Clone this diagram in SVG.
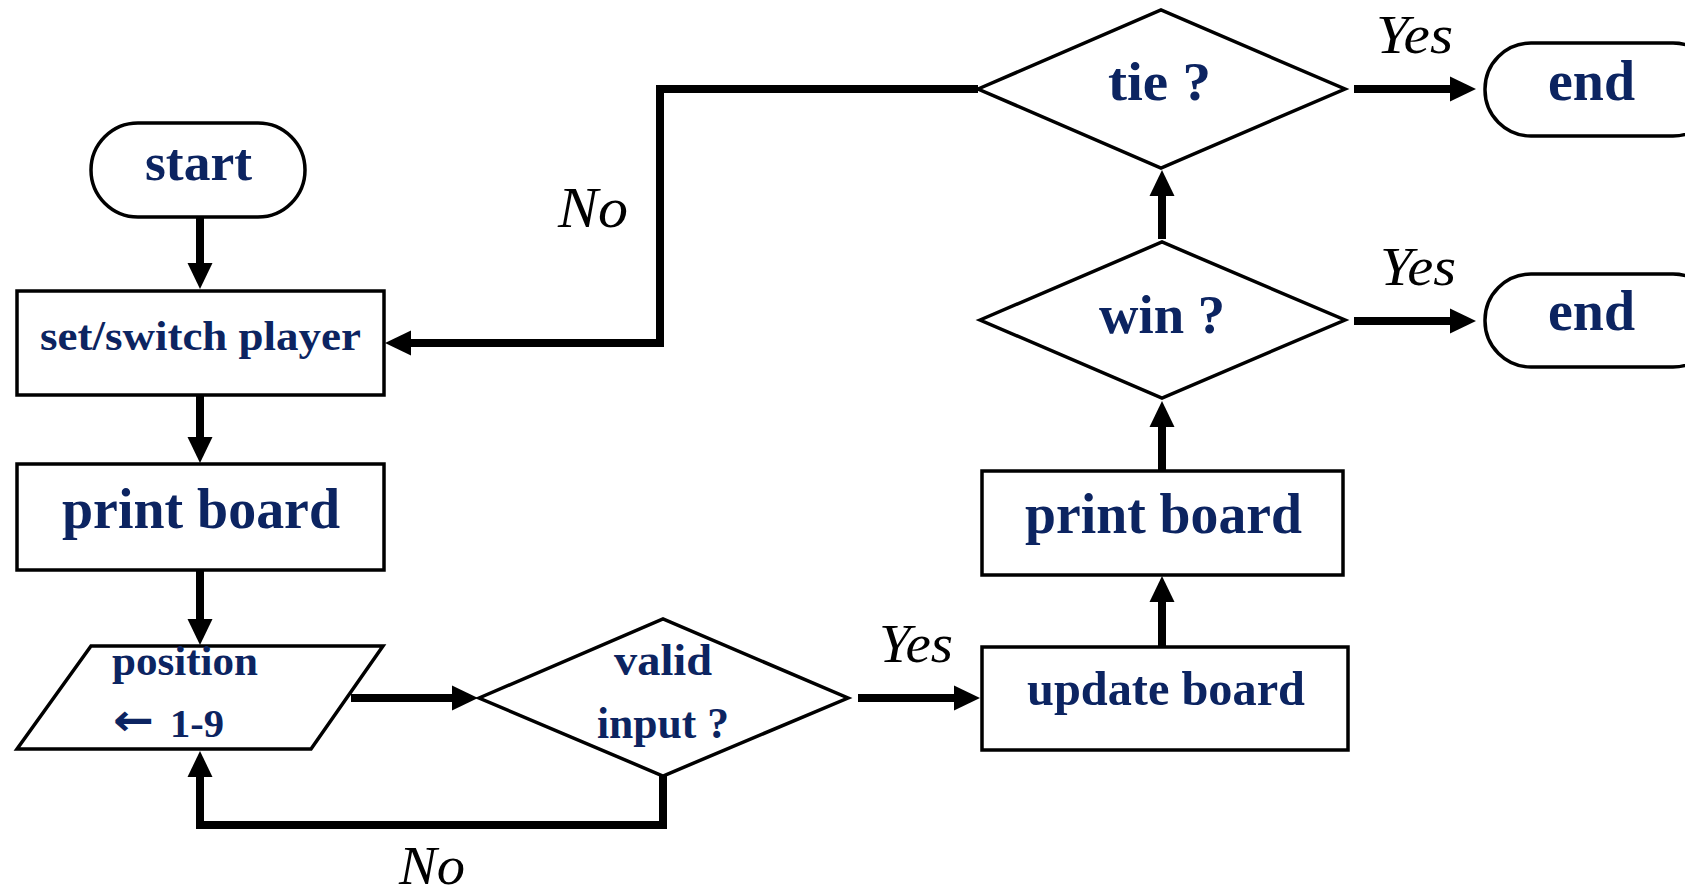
<svg xmlns="http://www.w3.org/2000/svg" width="1685" height="895" viewBox="0 0 1685 895">
<style>
.box{fill:#fff;stroke:#000;stroke-width:3.5}
.dia{fill:#fff;stroke:#000;stroke-width:3.5;stroke-linejoin:miter}
.t{font-family:"Liberation Serif","DejaVu Serif",serif;font-weight:bold;fill:#0c2461}
.arr{font-family:"DejaVu Sans","Liberation Sans",sans-serif;font-weight:bold;fill:#0c2461}
.lbl{font-family:"Liberation Serif","DejaVu Serif",serif;font-style:italic;fill:#000}
.conn{fill:none;stroke:#000;stroke-width:8;stroke-linejoin:miter;marker-end:url(#ah)}
</style>
<defs>
<marker id="ah" markerUnits="userSpaceOnUse" markerWidth="26" markerHeight="26" refX="4" refY="12.5" orient="auto" viewBox="0 0 26 25">
<path d="M0,0 L26,12.5 L0,25 z" fill="#000"/>
</marker>
</defs>
<rect width="1685" height="895" fill="#fff"/>
<g id="connectors">
<path class="conn" d="M200 217 V267"/>
<path class="conn" d="M200 395 V441"/>
<path class="conn" d="M200 570 V623"/>
<path class="conn" d="M351 698 H456"/>
<path class="conn" d="M663 776 V825 H200 V773"/>
<path class="conn" d="M858 698 H958"/>
<path class="conn" d="M1162 647 V598"/>
<path class="conn" d="M1162 471 V423"/>
<path class="conn" d="M1162 239 V192"/>
<path class="conn" d="M1354 89 H1454"/>
<path class="conn" d="M1354 321 H1454"/>
<path class="conn" d="M978 89 H660 V343 H407"/>
<text class="lbl" x="879" y="662" font-size="54" textLength="74" lengthAdjust="spacingAndGlyphs">Yes</text>
<text class="lbl" x="1376" y="53" font-size="54" textLength="77" lengthAdjust="spacingAndGlyphs">Yes</text>
<text class="lbl" x="1380" y="285" font-size="54" textLength="76" lengthAdjust="spacingAndGlyphs">Yes</text>
<text class="lbl" x="558" y="227" font-size="56" textLength="70" lengthAdjust="spacingAndGlyphs">No</text>
<text class="lbl" x="399" y="884" font-size="54" textLength="66" lengthAdjust="spacingAndGlyphs">No</text>
</g>
<g id="start">
<rect class="box" x="91" y="123" width="214" height="94" rx="47"/>
<text class="t" x="145" y="180" font-size="52" textLength="107" lengthAdjust="spacingAndGlyphs">start</text>
</g>
<g id="set-player">
<rect class="box" x="17" y="291" width="367" height="104"/>
<text class="t" x="40" y="350" font-size="42" textLength="321" lengthAdjust="spacingAndGlyphs">set/switch player</text>
</g>
<g id="print-board-1">
<rect class="box" x="17" y="464" width="367" height="106"/>
<text class="t" x="62" y="528" font-size="56" textLength="278" lengthAdjust="spacingAndGlyphs">print board</text>
</g>
<g id="position">
<polygon class="box" points="91,646 383,646 311,749 17,749"/>
<text class="t" x="112" y="675" font-size="42" textLength="146" lengthAdjust="spacingAndGlyphs">position</text>
<text class="arr" x="113" y="735" font-size="44" textLength="41" lengthAdjust="spacingAndGlyphs">←</text>
<text class="t" x="170" y="737" font-size="40" textLength="54" lengthAdjust="spacingAndGlyphs">1-9</text>
</g>
<g id="valid-input">
<polygon class="dia" points="479,698 663,619 848,698 663,776"/>
<text class="t" x="614" y="675" font-size="44" textLength="98" lengthAdjust="spacingAndGlyphs">valid</text>
<text class="t" x="597" y="738" font-size="44" textLength="132" lengthAdjust="spacingAndGlyphs">input ?</text>
</g>
<g id="update-board">
<rect class="box" x="982" y="647" width="366" height="103"/>
<text class="t" x="1027" y="705" font-size="48" textLength="278" lengthAdjust="spacingAndGlyphs">update board</text>
</g>
<g id="print-board-2">
<rect class="box" x="982" y="471" width="361" height="104"/>
<text class="t" x="1025" y="533" font-size="56" textLength="277" lengthAdjust="spacingAndGlyphs">print board</text>
</g>
<g id="win">
<polygon class="dia" points="980,320 1162,242 1345,320 1162,398"/>
<text class="t" x="1099" y="333" font-size="54" textLength="126" lengthAdjust="spacingAndGlyphs">win ?</text>
</g>
<g id="tie">
<polygon class="dia" points="978,89 1161,10 1345,89 1161,168"/>
<text class="t" x="1108" y="100" font-size="54" textLength="103" lengthAdjust="spacingAndGlyphs">tie ?</text>
</g>
<g id="end-1">
<rect class="box" x="1485" y="43" width="234" height="93" rx="46"/>
<text class="t" x="1548" y="100" font-size="56" textLength="87" lengthAdjust="spacingAndGlyphs">end</text>
</g>
<g id="end-2">
<rect class="box" x="1485" y="274" width="234" height="93" rx="46"/>
<text class="t" x="1548" y="330" font-size="56" textLength="87" lengthAdjust="spacingAndGlyphs">end</text>
</g>
</svg>
